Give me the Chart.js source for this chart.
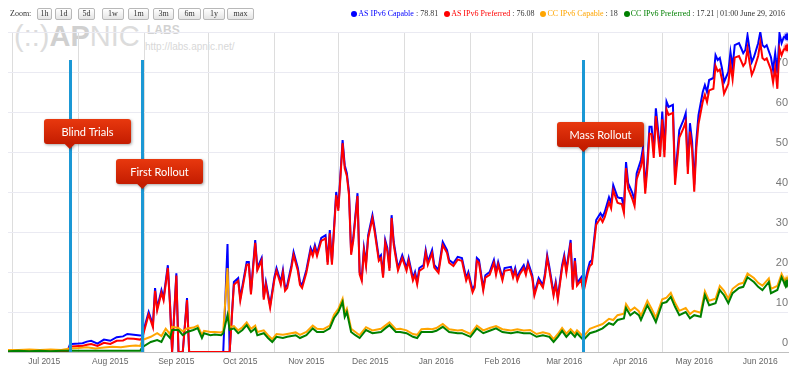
<!DOCTYPE html>
<html><head><meta charset="utf-8">
<script src="https://cdn.jsdelivr.net/npm/chart.js@4.4.1/dist/chart.umd.min.js"></script>
<style>
html,body{margin:0;padding:0;background:#fff;}
#wrap{position:relative;width:800px;height:368px;overflow:hidden;background:#fff;}
#c{position:absolute;left:0;top:0;}
#logo{position:absolute;left:14px;top:21px;font-family:"Liberation Sans",Arial,sans-serif;white-space:nowrap;}
#logo .big{font-size:29px;line-height:30px;color:#dcdcdc;}
#logo .ap{font-weight:bold;color:#d0d0d0;}
#labs{position:absolute;left:147px;top:23px;font:bold 12px "Liberation Sans",Arial,sans-serif;color:#d2d2d2;}
#url{position:absolute;left:145px;top:41px;font:10px "Liberation Sans",Arial,sans-serif;color:#d8d8d8;}
#zoomlbl{position:absolute;left:10px;top:8px;font:8px "Liberation Serif",serif;color:#333;line-height:11px;}
.btn{position:absolute;top:8px;height:10px;line-height:10px;border:1px solid #b8b8b8;border-radius:2px;background:linear-gradient(#ffffff,#e4e4e4);font:8px "Liberation Serif",serif;color:#333;text-align:center;}
#legend{position:absolute;right:15px;top:9px;font:8px "Liberation Serif",serif;color:#333;white-space:nowrap;line-height:10px;}
#legend .dot{display:inline-block;width:6px;height:6px;border-radius:50%;margin:0 1px 0 4px;vertical-align:-0.5px;}
</style></head>
<body>
<div id="wrap">
  <div id="logo"><span class="big">(::)<span class="ap">AP</span>NIC</span></div>
  <div id="labs">LABS</div>
  <div id="url">http://labs.apnic.net/</div>
  <canvas id="c" width="800" height="368"></canvas>
  <div id="zoomlbl">Zoom:</div>
  <div id="btns"></div>
  <div id="legend"></div>
</div>
<script>
// ---- data (day index: 0 = 29 Jun 2015, 366 = 29 Jun 2016) ----
const monthLabels = ['Jul 2015','Aug 2015','Sep 2015','Oct 2015','Nov 2015','Dec 2015','Jan 2016','Feb 2016','Mar 2016','Apr 2016','May 2016','Jun 2016'];
const monthStarts = [2,33,64,94,125,155,186,217,246,277,307,338];
const monthMids = [17,48,79,109,140,170,201,232,261,292,322,353];
const yTicks = [0,10,20,30,40,50,60,70,80];

const asDays = [
 0,4,8,12,16,20,24,28,29,30,
 33,35,37,39,42,45,48,51,54,56,
 59,62,63,66,68,69,70,72,73,75,
 76,77,79,80,82,84,85,90,95,101,
 103,104,106,108,109,112,113,114,116,117,
 119,120,121,123,125,126,128,129,130,131,
 133,134,136,137,138,140,142,143,144,145,
 147,149,150,151,152,154,155,157,158,159,
 160,161,162,164,165,166,167,168,169,171,
 172,174,175,176,177,178,179,180,181,182,
 183,185,187,188,190,191,192,193,195,196,
 197,199,200,202,204,206,207,209,211,213,
 214,215,216,218,219,220,221,223,224,226,
 228,229,230,232,233,236,237,238,239,240,
 242,243,244,246,247,249,251,252,253,254,
 256,257,258,260,261,262,264,265,266,267,
 269,270,272,273,274,276,278,279,280,282,
 283,284,286,287,288,289,290,291,293,294,
 295,297,298,299,300,301,302,303,304,306,
 307,308,309,310,312,313,315,316,317,318,
 319,320,321,322,323,324,326,327,328,329,
 331,332,333,334,335,336,338,339,340,341,
 343,344,345,346,347,348,349,350,352,353,
 354,355,356,358,359,360,361,362,363,364,366];
const asCapable = [
 0.4,0.3,0.4,0.3,0.4,0.3,0.4,0.3,1.8,2.0,
 2.1,2.2,2.6,2.8,2.1,3.1,2.8,3.7,3.9,4.5,
 4.3,4.1,4.2,10,6.8,16,11,15.5,13.5,21.7,
 12.5,0,19.7,0,0,13.5,0,0,0,0,
 27,0,17.5,18.5,13.5,22.5,22.5,15,28,21,
 23.5,13.7,17.5,11.7,18.7,21,17.5,20.5,16,16.7,
 21.7,25,21,17.5,16.7,20.5,26,24.7,26.7,24.7,
 28.5,29.2,22.5,30.5,22.5,40,36,53,46.7,44.7,
 40,25,28.5,39.7,20,18.5,26,22.2,29.2,34.2,
 31,23.5,24.2,19.2,28,26,21,34.2,27.5,24.2,
 21,24.2,21,23.5,18.5,20,17.5,21,21.7,25.5,
 22.5,25.5,21.8,20.5,27.5,25.5,23,22.2,23.8,23.5,
 21,18.5,20,15.5,16.7,23.5,23,16,19.2,20,
 23,20,22.5,18.5,21,21.3,19.2,21,18.5,20,
 21.7,20,22.5,19.2,14.7,18.5,16.7,19.7,24.2,21.3,
 14.7,17.5,13.7,21.7,24.2,20.5,28,16.2,23.5,17.2,
 18.7,15.5,20.5,22.5,23,33,34.7,33.8,35,38.7,
 37.2,41.7,38.7,38.5,38.5,36.2,47.5,42.2,39.7,38,
 44.7,48,51.2,41,47.5,56.3,56.3,50.1,60.9,50.5,
 60.1,50.5,62.6,61.3,61.8,43.4,55.5,56.8,58,59.7,
 46.3,57.2,52.6,41.8,53,59.2,65,66.7,65,68,
 68.5,74.2,73,73.5,71,67.5,70,75,71.2,76.7,
 77.2,76,74.7,75.5,79.2,75.5,72.5,73.7,77.2,80,
 76.7,76.2,76.7,73.7,70.5,74.7,69.7,79.7,77.2,78.7,78.81];
const asPreferred = [
 0.3,0.2,0.3,0.2,0.3,0.2,0.3,0.2,1.3,1.4,
 1.5,1.5,1.8,2.0,1.5,2.3,2.0,2.8,2.9,3.4,
 3.3,3.1,3.5,9.4,6.2,15.3,10.4,14.8,12.9,21,
 11.9,0,19.1,0,0,13,0,0,0,0,
 0,0,16.8,17.8,12.9,21.8,21.9,14.4,27.3,20.4,
 22.9,13.1,16.9,11.1,18.1,20.3,16.8,19.8,15.3,16,
 21,24.2,20.3,16.8,16,19.8,25.3,24,26,24,
 27.8,28.4,21.8,29.7,21.8,39.2,35.3,52.2,45.9,44,
 39.3,24.3,27.8,39,19.4,17.8,25.3,21.5,28.5,33.4,
 30.2,22.8,23.5,18.6,27.3,25.2,20.3,33.5,26.8,23.5,
 20.4,23.5,20.3,22.8,17.9,19.3,16.9,20.3,21,24.8,
 21.8,24.7,21.1,19.8,26.7,24.8,22.3,21.5,23.1,22.8,
 20.3,17.9,19.3,14.9,16.1,22.8,22.3,15.4,18.6,19.3,
 22.3,19.3,21.8,17.9,20.3,20.6,18.6,20.3,17.9,19.3,
 21,19.3,21.8,18.5,14.1,17.8,16.1,19,23.5,20.6,
 14.1,16.9,13.1,21,23.5,19.8,27.3,15.6,22.8,16.6,
 18,14.9,19.6,21.5,22,31.8,33.5,32.5,33.7,37.4,
 35.9,40.4,37.3,37.1,37,34.8,46,40.8,38.2,36.5,
 43.2,46.4,49.6,39.6,45.9,54.6,54.5,48.5,59,48.8,
 58.2,48.7,60.6,59.3,59.8,41.8,53.6,54.8,56,57.6,
 44.5,55.1,50.6,40.1,51,57,62.6,64.3,62.5,65.4,
 65.8,71.5,70.2,70.6,68.2,64.6,67,72,68.2,73.6,
 74,72.8,71.5,72.3,75.9,72.3,69.3,70.5,74,77.4,
 73.5,73,73.4,70.6,67.4,71.1,65.8,75.9,74.2,75.6,76.08];

const ccDays = [
 0,5,10,15,20,25,29,33,37,41,
 45,49,53,57,60,62,63,67,70,72,
 74,76,77,80,82,84,87,89,91,92,
 95,97,100,101,103,104,106,108,110,112,
 114,116,117,120,122,124,126,129,131,135,
 137,140,143,145,148,151,153,155,157,158,
 159,161,163,165,168,171,175,177,179,182,
 184,187,190,192,194,197,199,201,204,207,
 211,213,217,220,223,226,229,232,236,239,
 242,245,248,251,254,256,258,260,262,264,
 266,267,270,273,276,279,282,284,286,289,
 290,292,294,296,297,300,302,304,307,309,
 311,313,315,318,320,322,325,327,329,332,
 334,336,338,340,343,345,347,350,352,354,
 357,358,361,363,365,366];
const ccCapable = [
 0.5,0.5,0.6,0.5,0.6,0.5,0.9,1.0,1.2,0.9,
 1.1,1.3,1.2,1.5,1.6,1.5,3.0,3.8,4.7,4.0,
 5.8,4.5,6.3,6.0,5.2,5.9,6.1,6.6,4.3,5.3,
 5.0,5.0,4.9,5.2,21,6.2,6.5,5.4,6.2,7.4,
 5.8,6.6,5.0,5.4,4.2,3.2,4.5,4.3,4.5,4.9,
 4.3,5.0,6.6,5.8,5.7,6.6,9.3,10.8,13.3,9.6,
 10.8,5.8,5.0,4.2,6.2,5.4,5.8,6.6,7.4,5.7,
 5.8,5.4,4.5,4.3,5.7,5.8,5.7,6.0,7.0,5.7,
 5.4,5.5,4.5,6.6,5.4,6.0,6.5,5.7,5.4,5.7,
 5.4,5.5,4.5,4.9,4.5,3.2,4.5,6.0,4.6,5.7,
 4.6,5.4,3.8,5.8,6.4,7.0,8.3,8.0,9.2,9.6,
 12,10.3,11.1,10.2,9.1,12.8,10.8,8.6,13.2,13.6,
 14.8,12.3,10.3,11,9.5,10.3,9.8,15.2,12.8,13.3,
 16.5,15.3,13.3,15.8,17,17.3,19.6,18.5,17.3,16.6,
 18.4,15.8,16.5,19.5,17.2,18];
const ccPreferred = [
 0.2,0.3,0.2,0.3,0.2,0.3,0.3,0.3,0.3,0.3,
 0.3,0.3,0.3,0.3,0.3,0.3,1.2,2.5,3.0,2.5,
 4.7,3.5,5.5,5.5,4.2,5.0,5.5,6.0,3.5,4.7,
 4.2,4.4,4.2,4.7,9.2,5.5,5.9,4.7,5.5,6.7,
 5.0,5.9,4.2,4.7,3.5,2.5,3.8,3.5,3.8,4.2,
 3.5,4.2,5.9,5.0,5.0,5.9,8.5,10,12.5,8.8,
 10,5.0,4.2,3.5,5.5,4.7,5.0,5.9,6.7,5.0,
 5.0,4.7,3.8,3.5,5.0,5.0,5.0,5.3,6.3,5.0,
 4.7,4.7,3.8,5.9,4.7,5.3,5.9,5.0,4.7,5.0,
 4.7,4.7,3.8,4.2,3.8,2.5,3.8,5.3,3.8,5.0,
 3.8,4.7,3.0,4.7,5.2,5.9,7.2,6.8,8.0,8.4,
 11,9.2,10,9.2,8.0,11.7,9.7,7.5,12.2,12.5,
 13.8,11.3,9.2,10,8.4,9.2,8.8,14.2,11.7,12.2,
 15.5,14.2,12.2,14.7,16,16.3,18.7,17.5,16.3,15.5,
 17.5,14.7,15.5,18.7,16.3,17.21];

const seriesNames = ['AS IPv6 Capable','AS IPv6 Preferred','CC IPv6 Capable','CC IPv6 Preferred'];
const eventDays = [29, 63, 270];
const eventNames = ['Blind Trials','First Rollout','Mass Rollout'];
const zoomButtons = ['1h','1d','5d','1w','1m','3m','6m','1y','max'];
const stampText = '| 01:00 June 29, 2016';

// ---- styles ----
const colors = ['#0000ff','#ff0000','#ffa500','#008000'];
const haloColors = ['rgba(0,0,255,0.3)','rgba(255,0,0,0.3)','rgba(255,165,0,0.3)','rgba(0,128,0,0.3)'];
const calloutStyle = {tops:[119,159,122], lineTop:60, width:87, height:25, anchor:26};
const btnStyle = {lefts:[37,55,78,102,128,153,178,203,227], widths:[13,15,15,20,19,19,21,20,25]};

// zoom buttons
const btns = document.getElementById('btns');
zoomButtons.forEach((t,i)=>{
  const b=document.createElement('div'); b.className='btn'; b.textContent=t;
  b.style.left=btnStyle.lefts[i]+'px'; b.style.width=btnStyle.widths[i]+'px';
  btns.appendChild(b);
});

// legend
const allVals=[asCapable,asPreferred,ccCapable,ccPreferred];
const leg=document.getElementById('legend');
seriesNames.forEach((n,i)=>{
  const d=document.createElement('span'); d.className='dot'; d.style.background=colors[i]; leg.appendChild(d);
  const s=document.createElement('span'); s.style.color=colors[i]; s.textContent=n; leg.appendChild(s);
  const v=allVals[i][allVals[i].length-1];
  leg.appendChild(document.createTextNode(' : '+v+' '));
});
leg.appendChild(document.createTextNode(' '+stampText));

function pts(days, vals){ return days.map((d,i)=>({x:d,y:vals[i]})); }
function ds(label, days, vals, idx, order){
  return {label, data:pts(days,vals), borderColor:colors[idx], backgroundColor:colors[idx],
    borderWidth:2, tension:0, order,
    pointRadius: c => c.dataIndex===c.dataset.data.length-1 ? 3.5 : 0,
    pointBorderWidth:3, pointBorderColor:haloColors[idx], pointBackgroundColor:colors[idx]};
}

const eventsPlugin = {
  id:'events',
  afterDatasetsDraw(chart){
    const {ctx, chartArea} = chart; const x = chart.scales.x;
    ctx.save();
    eventDays.forEach(d=>{
      const px = Math.round(x.getPixelForValue(d))+0.5;
      ctx.strokeStyle='#1b98d5'; ctx.lineWidth=3;
      ctx.beginPath(); ctx.moveTo(px, calloutStyle.lineTop); ctx.lineTo(px, chartArea.bottom); ctx.stroke();
    });
    eventDays.forEach((d,i)=>{
      const px = x.getPixelForValue(d);
      const L = Math.round(px - calloutStyle.anchor), T = calloutStyle.tops[i];
      const W = calloutStyle.width, H = calloutStyle.height, r = 3;
      ctx.save();
      ctx.shadowColor='rgba(0,0,0,0.35)'; ctx.shadowBlur=3; ctx.shadowOffsetX=1; ctx.shadowOffsetY=1;
      const g = ctx.createLinearGradient(0,T,0,T+H);
      g.addColorStop(0,'#e8380e'); g.addColorStop(1,'#c41c00');
      ctx.fillStyle=g;
      ctx.beginPath();
      ctx.moveTo(L+r,T); ctx.lineTo(L+W-r,T); ctx.quadraticCurveTo(L+W,T,L+W,T+r);
      ctx.lineTo(L+W,T+H-r); ctx.quadraticCurveTo(L+W,T+H,L+W-r,T+H);
      ctx.lineTo(px+5,T+H); ctx.lineTo(px,T+H+5); ctx.lineTo(px-5,T+H);
      ctx.lineTo(L+r,T+H); ctx.quadraticCurveTo(L,T+H,L,T+H-r);
      ctx.lineTo(L,T+r); ctx.quadraticCurveTo(L,T,L+r,T);
      ctx.closePath(); ctx.fill();
      ctx.restore();
      ctx.fillStyle='#ffffff'; ctx.font='11px Lato, "Open Sans", sans-serif';
      ctx.textAlign='center'; ctx.textBaseline='middle';
      ctx.fillText(eventNames[i], L+W/2, T+H/2+0.5);
    });
    ctx.restore();
  }
};

new Chart(document.getElementById('c'), {
  type:'line',
  data:{datasets:[
    ds(seriesNames[0], asDays, asCapable, 0, 4),
    ds(seriesNames[1], asDays, asPreferred, 1, 3),
    ds(seriesNames[2], ccDays, ccCapable, 2, 2),
    ds(seriesNames[3], ccDays, ccPreferred, 3, 1)
  ]},
  options:{
    responsive:false, animation:false, devicePixelRatio:1,
    layout:{padding:{left:8,right:12,top:32,bottom:-4}},
    plugins:{legend:{display:false}, tooltip:{enabled:false}},
    scales:{
      x:{type:'linear', min:0, max:366, position:'bottom',
        afterBuildTicks: s=>{ s.ticks = monthStarts.map(v=>({value:v})); },
        grid:{color:'#dddddd', drawTicks:false, tickLength:0, lineWidth:1},
        border:{display:true, color:'#c0c0c0', width:1},
        ticks:{display:false, padding:0}},
      xl:{type:'linear', min:0, max:366, position:'bottom',
        afterBuildTicks: s=>{ s.ticks = monthMids.map(v=>({value:v})); },
        grid:{display:false, drawTicks:false, tickLength:0}, border:{display:false},
        ticks:{padding:5.75, color:'#666', autoSkip:false, maxRotation:0,
          font:{family:'"Liberation Sans", Arial, sans-serif', size:8.5, lineHeight:1},
          callback:(v,i)=>monthLabels[i]}},
      y:{position:'right', min:0, max:80,
        afterBuildTicks: s=>{ s.ticks = yTicks.map(v=>({value:v})); },
        grid:{color:'#eaeaf2', drawTicks:false, tickLength:0, lineWidth:1},
        border:{display:false},
        ticks:{mirror:true, padding:0, labelOffset:-9, color:'#777',
          font:{family:'"Liberation Sans", Arial, sans-serif', size:11},
          callback:v=> v===80 ? '' : String(v)}}
    }
  },
  plugins:[eventsPlugin]
});
</script>
</body></html>
